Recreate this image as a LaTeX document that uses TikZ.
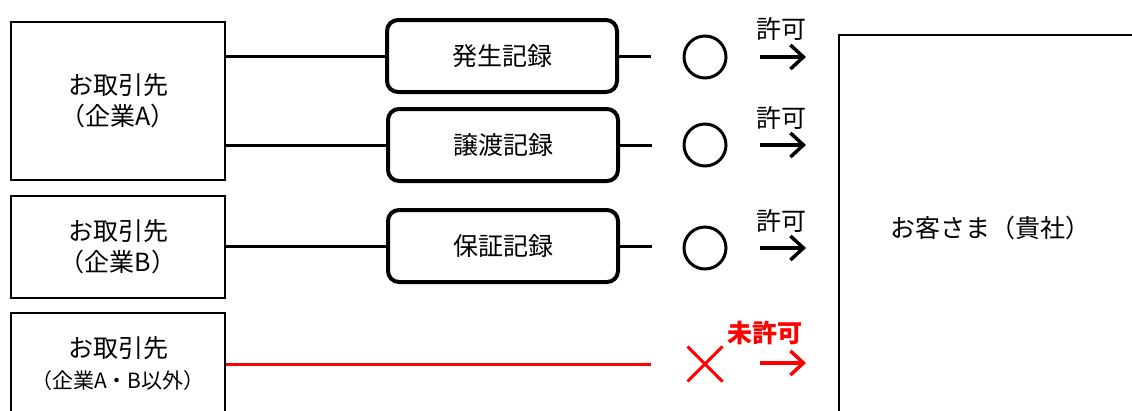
\documentclass[tikz,border=0pt]{standalone}
\usepackage{fontspec}
\setmainfont{Noto Sans CJK JP}
\usetikzlibrary{arrows.meta,shapes.misc}

\begin{document}
\begin{tikzpicture}[x=1pt,y=-1pt,line width=3pt]
   \useasboundingbox (0,0) rectangle (1132,410);
   \tikzstyle{party}=[draw, line width=2.5pt, minimum width=214pt, align=center, inner sep=0pt, font=\fontsize{25}{31}\selectfont]
   \tikzstyle{record}=[draw, rounded corners=11pt, line width=4pt, minimum width=230pt, minimum height=72pt, inner sep=0pt, font=\fontsize{25}{30}\selectfont]
   \tikzstyle{ok}=[draw, circle, line width=3pt, minimum size=42pt, inner sep=0pt]
   \tikzstyle{permit}=[font=\fontsize{25}{30}\selectfont, inner sep=0pt]
   \tikzstyle{pass}=[-{Straight Barb[length=13pt,width=24pt]}, line width=3.5pt]
   % partners
   \node[party, minimum height=158pt] (ptA) at (118,101) {お取引先\\（企業A）};
   \node[party, minimum height=102pt] (ptB) at (118,247) {お取引先\\（企業B）};
   \node[party, minimum height=102pt] (ptC) at (118,364) {お取引先\\{\fontsize{21}{31}\selectfont（企業A・B以外）}};
   % customer
   \node[draw, line width=2pt, minimum width=302pt, minimum height=386pt, inner sep=0pt, font=\fontsize{25}{30}\selectfont] (cust) at (990,228) {お客さま（貴社）};
   % records
   \node[record] (rec1) at (502,56) {発生記録};
   \node[record] (rec2) at (503,145) {譲渡記録};
   \node[record] (rec3) at (503,246) {保証記録};
   \draw (ptA.east |- rec1.west) -- (rec1.west);
   \draw (ptA.east |- rec2.west) -- (rec2.west);
   \draw (ptB.east |- rec3.west) -- (rec3.west);
   \foreach \i/\y/\ly in {1/57/29,2/145/118,3/248/221} {
       \draw (rec\i.east) -- ++(32,0);
       \node[ok] (ok\i) at (705,\y) {};
       \coordinate (as\i) at (760,\y);
       \coordinate (ae\i) at (806,\y);
       \draw[pass] (as\i) -- (ae\i);
       \node[permit] (lbl\i) at (781,\ly) {許可};
   }
   % not permitted
   \draw[red] (ptC.east) -- ++(425,0);
   \node[draw=red, cross out, line width=3pt, minimum size=32pt, inner sep=0pt] (ng) at (705,364) {};
   \coordinate (as4) at (760,363);
   \coordinate (ae4) at (806,363);
   \draw[pass, red] (as4) -- (ae4);
   \node[permit, text=red, font=\fontsize{25}{30}\selectfont\bfseries] (lbl4) at (765,333) {未許可};
\end{tikzpicture}
\end{document}
